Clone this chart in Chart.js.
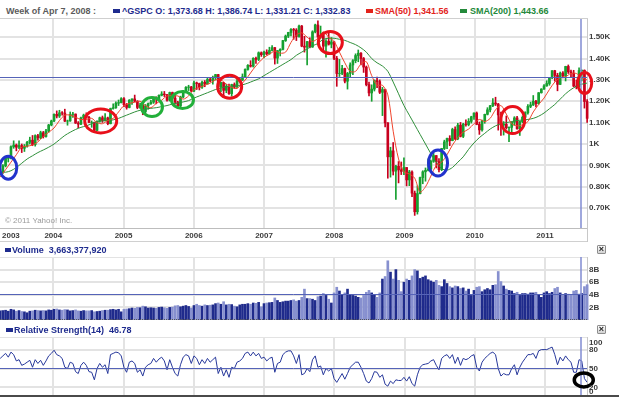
<!DOCTYPE html>
<html>
<head>
<meta charset="utf-8">
<title>^GSPC weekly chart</title>
<script src="https://cdn.jsdelivr.net/npm/chart.js@4.4.1/dist/chart.umd.min.js"></script>
<style>
html,body{margin:0;padding:0;background:#fff;}
body{position:relative;width:619px;height:397px;overflow:hidden;font-family:'Liberation Sans',Arial,sans-serif;}
canvas{position:absolute;left:0;}
.t{position:absolute;font-size:9px;font-weight:bold;line-height:12px;white-space:nowrap;}
.sq{position:absolute;width:7px;height:4px;}
.ln{position:absolute;}
.xb{position:absolute;left:597px;width:7px;height:7px;border:1px solid #8e8e8e;border-radius:1px;background:linear-gradient(#ffffff,#d2d2d2);color:#222;font-size:9px;line-height:7px;text-align:center;font-weight:bold;}
</style>
</head>
<body>
<canvas id="mainChart" width="619" height="223" style="top:19px"></canvas>
<canvas id="volChart" width="619" height="63" style="top:257px"></canvas>
<canvas id="rsiChart" width="619" height="63" style="top:337px"></canvas>

<div class="t" style="left:6px;top:5px;color:#5b5b5b">Week of Apr 7, 2008 :</div>
<div class="sq" style="left:113px;top:9px;background:#1e2b8e"></div>
<div class="t" style="left:122px;top:5px;color:#1e2b8e">^GSPC O: 1,373.68 H: 1,386.74 L: 1,331.21 C: 1,332.83</div>
<div class="sq" style="left:366px;top:9px;background:#e3231b"></div>
<div class="t" style="left:375px;top:5px;color:#e3231b">SMA(50) 1,341.56</div>
<div class="sq" style="left:460px;top:9px;background:#23893a"></div>
<div class="t" style="left:470px;top:5px;color:#23893a">SMA(200) 1,443.66</div>
<div class="ln" style="left:0;top:18px;width:588px;height:1px;background:#cfcfcf"></div>
<div class="t" style="font-weight:normal;font-size:8px;color:#9a9a9a;left:5px;top:215px">© 2011 Yahoo! Inc.</div>
<div class="ln" style="left:0;top:241px;width:588px;height:1px;background:#d0d0d0"></div>
<div class="ln" style="left:587px;top:228px;width:1px;height:14px;background:#c8c8c8"></div>

<div class="sq" style="left:5px;top:248px;width:6px;background:#1e2b8e"></div>
<div class="t" style="left:12px;top:244px;color:#1e2b8e">Volume&nbsp; 3,663,377,920</div>
<div class="xb" style="top:245px">×</div>

<div class="ln" style="left:0;top:319px;width:587px;height:0;border-top:1px dotted #555"></div>
<div class="sq" style="left:6px;top:328px;background:#1e2b8e"></div>
<div class="t" style="left:14px;top:324px;color:#1e2b8e">Relative Strength(14)&nbsp; 46.78</div>
<div class="xb" style="top:325px">×</div>
<div class="ln" style="left:0;top:395px;width:619px;height:2px;background:#4a4a4a"></div>

<script>
// ================= DATA =================
// Bi-weekly bars, first bar starting Mon 2003-03-31 (last bar = week of 2011-08-08)
const firstBarStart = '2003-03-31';
const barSpacingDays = 14;

const opens = [
 863,868,898,933,933,987,995,985,993,980,990,1008,1018,997,1039,1029,1053,1035,1061,
 1089,1108,1139,1131,1146,1145,1107,1108,1139,1140,1098,1093,1122,1135,1125,1101,1101,1064,1107,1123,1110,1122,1095,1166,1170,1191,1194,
 1212,1184,1171,1205,1211,1200,1171,1182,1152,1178,1189,1196,1216,1211,1228,1234,1231,1205,1241,1215,1196,1178,1220,1248,1265,1267,
 1248,1286,1283,1266,1289,1281,1302,1295,1311,1325,1267,1288,1251,1270,1236,1278,1266,1295,1299,1314,1349,1368,1364,1401,1396,1427,
 1418,1430,1422,1438,1451,1402,1437,1443,1484,1505,1522,1536,1533,1503,1552,1458,1453,1479,1454,1525,1557,1501,1509,1458,1481,1467,
 1478,1401,1330,1331,1353,1294,1330,1370,1390,1414,1425,1400,1360,1278,1239,1257,1297,1292,1242,1255,1099,940,968,873,896,879,
 872,890,832,869,770,683,768,843,870,877,883,919,946,918,880,979,1010,1026,1016,1068,1025,1088,1036,1093,1091,1106,
 1127,1145,1092,1066,1109,1139,1160,1179,1192,1187,1136,1089,1092,1076,1078,1102,1122,1071,1105,1125,1146,1176,1183,1200,1189,1240,
 1257,1272,1283,1310,1343,1321,1279,1332,1319,1363,1338,1331,1271,1268,1344,1345,1199
];
const highs = [
 885,904,939,947,991,1015,1000,1015,1000,998,1012,1032,1040,1043,1045,1060,1059,1069,1092,
 1112,1141,1155,1158,1152,1163,1112,1150,1148,1141,1105,1126,1140,1146,1130,1108,1103,1109,1126,1131,1142,1126,1168,1188,1197,1206,1217,
 1217,1190,1208,1212,1229,1203,1192,1192,1185,1192,1205,1219,1221,1230,1245,1246,1233,1243,1243,1235,1200,1224,1250,1269,1275,1270,
 1294,1290,1285,1294,1297,1310,1310,1318,1326,1326,1290,1289,1280,1280,1280,1286,1305,1311,1328,1352,1372,1390,1404,1407,1431,1431,
 1435,1441,1453,1461,1452,1438,1446,1485,1510,1523,1540,1541,1540,1556,1555,1504,1481,1497,1530,1561,1576,1552,1511,1489,1523,1498,
 1479,1410,1396,1368,1355,1335,1380,1395,1422,1440,1428,1405,1365,1290,1277,1300,1313,1300,1265,1255,1100,985,1007,900,918,916,
 935,890,877,875,780,804,845,875,888,930,925,956,946,932,980,1018,1028,1039,1074,1080,1097,1101,1097,1113,1119,1130,
 1146,1150,1103,1112,1140,1170,1181,1213,1219,1190,1150,1105,1131,1080,1104,1128,1130,1106,1131,1151,1184,1196,1227,1205,1241,1259,
 1278,1296,1311,1344,1345,1331,1337,1339,1364,1370,1346,1345,1298,1356,1347,1347,1208
];
const lows = [
 855,862,893,916,930,980,968,978,960,965,985,1000,992,990,1018,1025,1028,1032,1055,
 1085,1105,1122,1124,1135,1105,1088,1106,1124,1096,1076,1090,1118,1122,1100,1078,1060,1063,1102,1101,1108,1090,1094,1163,1167,1180,1192,
 1175,1163,1169,1185,1198,1165,1167,1137,1145,1163,1185,1190,1188,1205,1225,1222,1200,1201,1205,1187,1168,1175,1216,1245,1250,1245,
 1245,1255,1253,1260,1268,1280,1290,1280,1300,1260,1245,1219,1240,1232,1224,1260,1265,1290,1297,1310,1345,1360,1360,1377,1390,1410,
 1403,1416,1420,1436,1374,1377,1412,1440,1480,1498,1506,1490,1484,1500,1455,1430,1370,1450,1452,1520,1499,1495,1439,1406,1463,1450,
 1395,1270,1316,1325,1286,1257,1312,1324,1380,1385,1370,1335,1272,1225,1200,1248,1264,1236,1133,1080,840,845,855,741,818,857,
 857,804,805,754,666,672,766,814,826,874,879,914,888,869,875,974,978,992,1015,1020,1020,1033,1030,1083,1085,1098,
 1115,1090,1045,1060,1097,1136,1150,1175,1180,1065,1040,1042,1070,1011,1056,1088,1069,1040,1100,1122,1140,1170,1180,1173,1186,1238,
 1255,1270,1275,1306,1294,1249,1278,1309,1295,1330,1311,1268,1258,1267,1295,1168,1101
];
const closes = [
 868,898,933,933,987,995,985,993,980,990,1008,1018,997,1039,1029,1053,1035,1061,1089,
 1108,1139,1131,1146,1145,1107,1108,1139,1140,1098,1093,1122,1135,1125,1101,1101,1064,1107,1123,1110,1122,1095,1166,1170,1191,1194,1212,
 1184,1171,1205,1211,1200,1171,1182,1152,1178,1189,1196,1216,1211,1228,1234,1231,1205,1241,1215,1196,1178,1220,1248,1265,1267,1248,
 1286,1283,1266,1289,1281,1302,1295,1311,1325,1267,1288,1251,1270,1236,1278,1266,1295,1299,1314,1349,1368,1364,1401,1396,1427,1418,
 1430,1422,1438,1451,1402,1437,1443,1484,1505,1522,1536,1533,1503,1552,1458,1453,1479,1454,1525,1557,1501,1509,1458,1481,1467,1478,
 1401,1330,1331,1353,1294,1330,1370,1390,1414,1425,1400,1360,1278,1239,1257,1297,1292,1242,1255,1099,940,968,873,896,879,872,
 890,832,869,770,683,768,843,870,877,883,919,946,918,880,979,1010,1026,1016,1068,1025,1088,1036,1093,1091,1106,1127,
 1145,1092,1066,1109,1139,1160,1179,1192,1187,1136,1089,1092,1076,1078,1102,1122,1071,1105,1125,1146,1176,1183,1200,1189,1240,1257,
 1272,1283,1310,1343,1321,1279,1332,1319,1363,1338,1331,1271,1268,1344,1345,1199,1120
];
// average daily volume, billions of shares
const volumesB = [
 1.45,1.5,1.55,1.4,1.7,1.6,1.4,1.5,1.35,1.3,1.15,1.4,1.45,1.55,1.5,1.45,1.5,1.45,1.6,
 1.55,1.7,1.75,1.6,1.55,1.65,1.6,1.45,1.5,1.6,1.45,1.4,1.5,1.45,1.45,1.5,1.3,1.35,1.4,1.5,1.55,1.55,1.65,1.7,1.6,1.7,1.3,
 1.7,1.75,1.8,1.9,1.85,2.0,1.95,2.2,2.1,1.9,1.95,1.9,1.85,2.0,2.05,1.95,1.85,2.0,2.05,2.25,2.3,2.1,2.2,2.3,2.15,1.9,
 2.3,2.5,2.3,2.2,2.4,2.3,2.35,2.4,2.6,2.7,2.5,2.9,2.4,2.5,2.45,2.2,2.1,2.4,2.5,2.5,2.6,2.5,2.7,2.65,2.8,2.1,
 2.6,2.7,2.75,2.8,3.5,3.1,2.8,2.9,3.0,3.0,3.1,3.2,3.0,3.1,3.6,4.9,3.4,3.4,3.3,3.1,3.7,3.8,4.2,3.9,3.3,2.7,
 4.3,5.2,4.6,4.0,4.3,4.9,4.0,3.9,3.8,3.6,3.5,3.9,4.4,4.7,4.3,4.0,3.6,4.3,6.5,6.9,9.4,7.6,6.5,8.0,6.3,4.5,
 6.0,6.5,6.3,7.0,8.0,7.8,6.6,6.8,7.0,6.4,6.2,6.0,6.3,5.5,5.3,6.4,5.8,5.3,5.1,5.4,5.3,5.0,5.1,4.6,4.9,3.9,
 4.7,5.2,5.3,4.5,4.8,5.0,4.8,5.5,5.6,7.7,6.1,5.4,4.9,4.7,4.6,4.2,4.4,3.9,4.2,4.2,4.1,4.3,4.3,4.4,4.0,3.6,
 4.3,4.5,4.2,4.4,5.0,5.2,4.3,3.9,4.2,4.1,4.0,4.6,4.7,4.1,4.2,5.3,5.6
];
const rsi14 = [
 66,70,74,68,76,72,62,64,55,57,60,63,52,64,58,63,55,62,70,
 74,79,72,70,66,52,50,60,58,45,42,55,60,55,45,44,32,50,58,52,56,42,72,74,76,75,70,
 52,44,60,62,58,44,48,38,52,56,58,66,60,65,68,62,48,64,52,42,38,56,68,72,70,58,
 70,66,56,64,58,66,60,64,68,42,52,38,48,36,52,50,60,62,66,74,76,70,76,70,74,66,
 68,62,66,68,44,58,60,72,76,78,78,70,58,72,40,42,50,45,64,70,52,54,40,50,46,50,
 34,28,35,42,33,42,52,56,60,60,52,42,30,27,34,45,44,36,40,25,22,30,26,32,31,31,
 36,30,37,26,22,40,52,56,57,58,62,64,55,48,66,70,72,66,72,58,68,55,66,64,66,70,
 72,52,46,60,66,70,74,76,72,50,38,42,40,40,50,56,40,52,60,66,72,72,74,66,78,80,
 80,80,82,84,72,56,68,62,70,64,60,44,44,64,62,34,28
];
// moving averages sampled every 4 weeks from 2003-03-31
const smaStart = '2003-03-31';
const smaSpacingDays = 28;
const sma50 = [
 845,880,915,950,985,990,995,1010,1035,1055,
 1075,1110,1135,1135,1125,1115,1115,1120,1100,1095,1110,1120,1150,
 1180,1190,1195,1200,1180,1170,1190,1205,1225,1225,1225,1210,1225,
 1255,1265,1275,1285,1300,1300,1280,1265,1260,1285,1315,1350,1380,
 1405,1420,1435,1425,1430,1475,1510,1520,1500,1480,1495,1525,1500,1480,
 1430,1380,1340,1340,1375,1385,1320,1275,1275,1230,1060,930,870,
 860,840,775,800,850,900,915,950,995,1030,1055,1070,1095,
 1115,1105,1120,1160,1180,1140,1095,1085,1090,1105,1150,1185,1215,
 1255,1290,1310,1315,1330,1330,1310,1300
];
const sma200 = [
 870,868,875,890,910,930,945,960,972,985,
 1000,1020,1040,1055,1068,1078,1085,1095,1105,1108,1110,1113,1120,
 1130,1140,1150,1158,1163,1167,1170,1175,1180,1187,1192,1197,1203,
 1215,1225,1235,1245,1255,1262,1268,1270,1272,1277,1285,1295,1305,
 1320,1335,1350,1365,1380,1395,1415,1430,1445,1460,1470,1490,1495,1495,
 1490,1485,1475,1465,1450,1430,1400,1380,1365,1340,1290,1235,1180,
 1135,1090,1045,1000,955,915,885,878,890,915,940,975,1005,
 1030,1050,1070,1085,1095,1100,1105,1110,1112,1115,1120,1130,1145,
 1165,1185,1210,1235,1255,1270,1280,1285
];
// axis ticks
const yearTicks = [2003,2004,2005,2006,2007,2008,2009,2010,2011];
const yearTickLabels = ['2003','2004','2005','2006','2007','2008','2009','2010','2011'];
const priceTicks = [700,800,900,1000,1100,1200,1300,1400,1500];
const priceTickLabels = ['0.70K','0.80K','0.90K','1K','1.10K','1.20K','1.30K','1.40K','1.50K'];
const volumeTicks = [2,4,6,8,10];
const volumeTickLabels = ['2B','4B','6B','8B',''];
const rsiTicks = [0,20,50,80,100];
const rsiTickLabels = ['0','20','50','80','100'];
// hand-drawn marks (decimal year, value) and cursor
const markDates  = [2003.359,2004.675,2005.405,2005.839,2006.511,2007.944,2009.477,2010.540,2011.565];
const markValues = [889,1108,1173,1206,1268,1475,911,1112,1286];
const markColors = ['blue','red','green','green','red','red','blue','red','red'];
const rsiMarkDate = 2011.552, rsiMarkValue = 31.8;
const cursorDate = 2011.51, cursorPrice = 1312, cursorVolume = 4.05, cursorRsi = 51;

// ================= STYLE =================
const FONT = "'Liberation Sans', Arial, sans-serif";
const GRID = '#e3e3e3';
const TICK_COLOR = '#3c3c3c';
const UP = '#16a030', DOWN = '#c8001e';
const MARK_STYLE = {blue:'#2233cc', red:'#e8101a', green:'#22b03a'};
const MARK_SIZES = [[8.5,11.5],[16,12],[10.5,9.5],[11,8.5],[12,11.5],[12,11],[9.5,13],[12,13.5],[7,10.5]];
const X_MIN = 2003.2412, X_MAX = 2011.598;

Chart.defaults.font.family = FONT;
Chart.defaults.animation = false;

const DAY = 86400000;
function yearFrac(ms){const d=new Date(ms);const y=d.getUTCFullYear();const s=Date.UTC(y,0,1),e=Date.UTC(y+1,0,1);return y+(ms-s)/(e-s);}
function seriesDates(startIso, stepDays, n){const t0=Date.parse(startIso+'T00:00:00Z');return Array.from({length:n},(_,i)=>yearFrac(t0+i*stepDays*DAY));}
const barX = seriesDates(firstBarStart, barSpacingDays, closes.length);
const smaX = seriesDates(smaStart, smaSpacingDays, sma50.length);
const isUp = closes.map((c,i)=>c>=opens[i]);
const candleColors = isUp.map(u=>u?UP:DOWN);

function xScale(h, border){
  return {
    type:'linear', min:X_MIN, max:X_MAX, offset:false,
    afterBuildTicks:s=>{s.ticks=yearTicks.filter(v=>v>=X_MIN&&v<=X_MAX).map(v=>({value:v}));},
    afterFit:s=>{s.height=h;s.paddingLeft=0;s.paddingRight=0;},
    ticks:{display:false},
    grid:{color:GRID,lineWidth:2,drawTicks:false,offset:false},
    border:{display:border,color:'#bdbdbd'}
  };
}
function yScale(min,max,ticks,labels,showLabels){
  return {
    position:'right', min, max, beginAtZero:false,
    afterBuildTicks:s=>{s.ticks=ticks.map(v=>({value:v}));},
    afterFit:s=>{s.width=32;s.paddingTop=0;s.paddingBottom=0;},
    ticks:{display:showLabels,autoSkip:false,padding:2,color:TICK_COLOR,
      font:{family:FONT,size:8,weight:'bold'},
      callback:(v)=>{const i=ticks.indexOf(v);return i>=0?labels[i]:'';}},
    grid:{color:GRID,lineWidth:2,drawTicks:false},
    border:{display:true,color:'#c8c8c8'}
  };
}
function drawCursor(chart){
  const {ctx,chartArea:a,scales:{x}}=chart;
  const px=Math.round(x.getPixelForValue(cursorDate));
  ctx.save();
  ctx.strokeStyle='rgba(128,139,210,0.75)';ctx.lineWidth=2;
  ctx.beginPath();ctx.moveTo(px,a.top);ctx.lineTo(px,chart.height);ctx.stroke();
  ctx.restore();
}
function drawHLine(chart,val,color){
  const {ctx,chartArea:a,scales:{y}}=chart;
  const py=Math.round(y.getPixelForValue(val))+0.5;
  ctx.save();ctx.strokeStyle=color;ctx.lineWidth=1;
  ctx.beginPath();ctx.moveTo(a.left,py);ctx.lineTo(a.right,py);ctx.stroke();ctx.restore();
}
function drawEllipse(ctx,cx,cy,rx,ry,color,lw){
  ctx.save();ctx.strokeStyle=color;ctx.lineWidth=lw;
  ctx.beginPath();ctx.ellipse(cx,cy,rx,ry,0,0,Math.PI*2);ctx.stroke();ctx.restore();
}

// ================= MAIN PRICE CHART =================
const mainOverlay = {
  id:'mainOverlay',
  afterDatasetsDraw(chart){
    drawHLine(chart,cursorPrice,'#5563b8');
    const {ctx,chartArea:a,scales:{x}}=chart;
    const px=Math.round(x.getPixelForValue(cursorDate));
    ctx.save();ctx.strokeStyle='rgba(128,139,210,0.75)';ctx.lineWidth=2;
    ctx.beginPath();ctx.moveTo(px,a.top);ctx.lineTo(px,a.bottom);ctx.stroke();ctx.restore();
  },
  afterDraw(chart){
    const {ctx,chartArea:a,scales:{x,y}}=chart;
    markDates.forEach((d,i)=>{
      drawEllipse(ctx,x.getPixelForValue(d),y.getPixelForValue(markValues[i]),
        MARK_SIZES[i][0],MARK_SIZES[i][1],MARK_STYLE[markColors[i]],3);
    });
    ctx.save();
    ctx.font='bold 8px '+FONT;ctx.fillStyle=TICK_COLOR;ctx.textBaseline='middle';ctx.textAlign='left';
    yearTicks.forEach((v,i)=>{
      const lbl=yearTickLabels[i];const w=ctx.measureText(lbl).width;
      const left=Math.max(x.getPixelForValue(v)-w/2,2);
      ctx.fillText(lbl,left,a.bottom+7.5);
    });
    ctx.restore();
  }
};
new Chart(document.getElementById('mainChart'),{
  type:'bar',
  data:{datasets:[
    {type:'line',label:'SMA(50)',data:smaX.map((x,i)=>({x,y:sma50[i]})),borderColor:'#f0442c',borderWidth:1,pointRadius:0,tension:0.3,order:0},
    {type:'line',label:'SMA(200)',data:smaX.map((x,i)=>({x,y:sma200[i]})),borderColor:'#2f8f3a',borderWidth:1,pointRadius:0,tension:0.3,order:0},
    {label:'body',data:barX.map((x,i)=>({x,y:[opens[i],closes[i]]})),backgroundColor:candleColors,barThickness:2,grouped:false,borderWidth:0,order:1,clip:{left:1,top:0,right:2,bottom:0}},
    {label:'wick',data:barX.map((x,i)=>({x,y:[lows[i],highs[i]]})),backgroundColor:candleColors,barThickness:1,grouped:false,borderWidth:0,order:2,clip:{left:1,top:0,right:2,bottom:0}}
  ]},
  options:{
    responsive:false,devicePixelRatio:1,events:[],
    layout:{padding:0},
    plugins:{legend:{display:false},tooltip:{enabled:false}},
    scales:{x:xScale(14,true),y:yScale(607,1585,priceTicks,priceTickLabels,true)}
  },
  plugins:[mainOverlay]
});

// ================= VOLUME =================
new Chart(document.getElementById('volChart'),{
  type:'bar',
  data:{datasets:[
    {label:'Volume',data:barX.map((x,i)=>({x,y:volumesB[i]})),
     backgroundColor:isUp.map(u=>u?'#1f2b8c':'#8790cf'),barThickness:2,borderWidth:0,clip:{left:1,top:0,right:2,bottom:0}}
  ]},
  options:{
    responsive:false,devicePixelRatio:1,events:[],layout:{padding:0},
    plugins:{legend:{display:false},tooltip:{enabled:false}},
    scales:{x:xScale(0,false),y:yScale(0,10,volumeTicks,volumeTickLabels,true)}
  },
  plugins:[{id:'volOverlay',afterDatasetsDraw(chart){drawHLine(chart,cursorVolume,'#5563b8');drawCursor(chart);}}]
});

// ================= RSI =================
new Chart(document.getElementById('rsiChart'),{
  type:'line',
  data:{datasets:[
    {label:'RSI(14)',data:barX.map((x,i)=>({x,y:rsi14[i]})),borderColor:'#26379a',borderWidth:1,pointRadius:0,tension:0}
  ]},
  options:{
    responsive:false,devicePixelRatio:1,events:[],layout:{padding:0},
    plugins:{legend:{display:false},tooltip:{enabled:false}},
    scales:{x:xScale(0,false),y:yScale(0,100,rsiTicks,rsiTickLabels,false)}
  },
  plugins:[{id:'rsiOverlay',
    afterDatasetsDraw(chart){drawHLine(chart,cursorRsi,'#5563b8');drawCursor(chart);},
    afterDraw(chart){
      const {ctx,chartArea:a,scales:{x,y}}=chart;
      drawEllipse(ctx,x.getPixelForValue(rsiMarkDate),y.getPixelForValue(rsiMarkValue),9.5,7,'#000',3.5);
      const visibleBottom=397-chart.canvas.offsetTop;
      ctx.save();ctx.font='bold 8px '+FONT;ctx.fillStyle=TICK_COLOR;ctx.textBaseline='middle';ctx.textAlign='left';
      rsiTicks.forEach((v,i)=>{
        const py=Math.min(Math.max(y.getPixelForValue(v),6),visibleBottom-5);
        ctx.fillText(rsiTickLabels[i],a.right+2,py);
      });
      ctx.restore();
    }}]
});
</script>
</body>
</html>
